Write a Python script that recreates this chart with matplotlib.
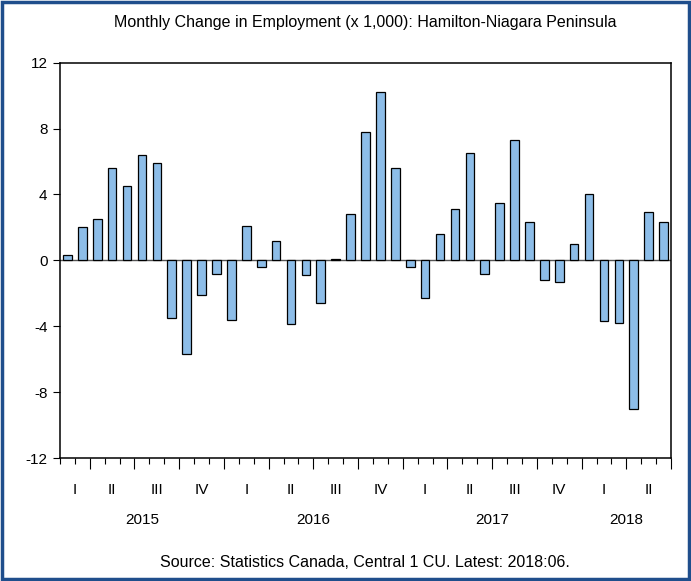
import matplotlib
matplotlib.use("Agg")
import matplotlib.pyplot as plt
import matplotlib.transforms as mtransforms
from matplotlib.patches import Rectangle
import numpy as np
import pandas as pd

plt.rcParams["font.family"] = ["Liberation Sans", "DejaVu Sans"]

# monthly change in employment (x 1,000), 2015:02 - 2018:06
start_month = "2015-02"
end_month = "2018-06"
change = [
    0.3, 2.0, 2.5, 5.6, 4.5, 6.4, 5.9, -3.5, -5.7, -2.1, -0.8,
    -3.6, 2.1, -0.4, 1.2, -3.85, -0.9, -2.6, 0.1, 2.8, 7.8, 10.2, 5.6,
    -0.4, -2.3, 1.6, 3.1, 6.5, -0.8, 3.5, 7.3, 2.3, -1.2, -1.3, 1.0, 4.0,
    -3.7, -3.8, -9.0, 2.95, 2.3,
]
quarter_names = ["I", "II", "III", "IV"]
y_ticks = [-12, -8, -4, 0, 4, 8, 12]

months = pd.period_range(start_month, end_month, freq="M")
x = np.arange(len(months))

fig = plt.figure(figsize=(6.91, 5.81), dpi=100)
ax = fig.add_axes([0.0868, 0.2117, 0.8843, 0.6803])

ax.axhline(0, color="#555555", linewidth=1.0, zorder=1)
ax.bar(x, change, width=0.58, color="#8dbde8", edgecolor="black",
       linewidth=0.9, zorder=2)

ax.set_xlim(-0.5, len(months) - 0.5)
ax.set_ylim(-12, 12)
ax.set_yticks(y_ticks)
ax.set_yticklabels([str(v) for v in y_ticks], fontsize=11)
ax.tick_params(axis="y", direction="out", length=5, width=0.8, pad=4)

# month ticks (minor) and quarter boundaries (major)
bounds = np.arange(len(months) + 1) - 0.5
q_start = np.array([m.quarter for m in months])
yr = np.array([m.year for m in months])
qkey = yr * 10 + q_start
major = [b for i, b in enumerate(bounds[1:], start=1)
         if i == len(months) or qkey[i] != qkey[i - 1]]
ax.set_xticks(major)
ax.set_xticklabels([])
ax.set_xticks(bounds, minor=True)
ax.tick_params(axis="x", which="major", direction="out", length=8, width=0.8)
ax.tick_params(axis="x", which="minor", direction="out", length=4, width=0.8)

for s in ax.spines.values():
    s.set_linewidth(1.1)
    s.set_color("black")

trans = mtransforms.blended_transform_factory(ax.transData, ax.transAxes)
for key in pd.unique(qkey):
    idx = x[qkey == key]
    ax.text(idx.mean(), -0.08, quarter_names[key % 10 - 1], transform=trans,
            ha="center", va="center", fontsize=11)
for y_ in pd.unique(yr):
    idx = x[yr == y_]
    ax.text(idx.mean(), -0.157, str(y_), transform=trans,
            ha="center", va="center", fontsize=11)

fig.text(0.528, 0.962, "Monthly Change in Employment (x 1,000): Hamilton-Niagara Peninsula",
         ha="center", va="center", fontsize=11.5)
fig.text(0.5275, 0.031, "Source: Statistics Canada, Central 1 CU. Latest: 2018:06.",
         ha="center", va="center", fontsize=11.5)

fig.patches.append(Rectangle((0.003, 0.003), 0.994, 0.994, transform=fig.transFigure,
                             fill=False, edgecolor="#1f4e8c", linewidth=2.5))

fig.savefig("out.png", dpi=100)
